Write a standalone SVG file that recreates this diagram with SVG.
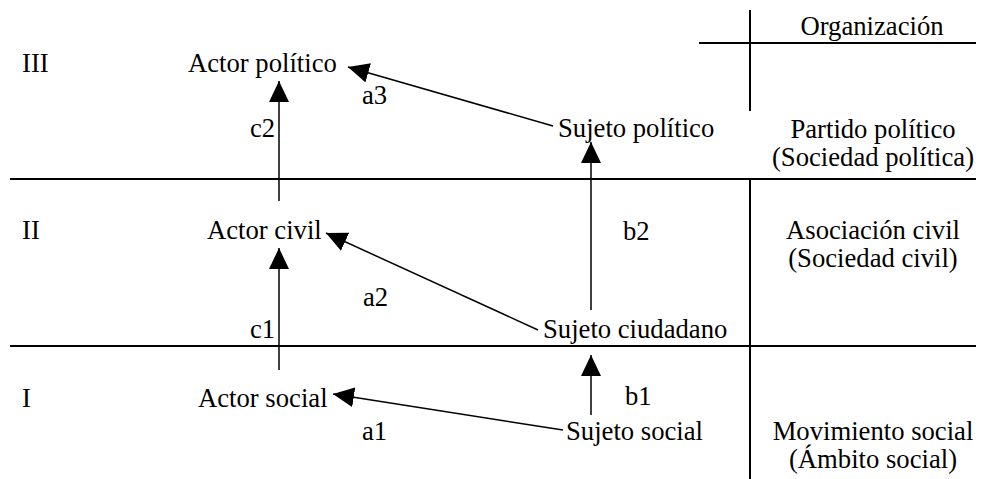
<svg xmlns="http://www.w3.org/2000/svg" width="987" height="479" viewBox="0 0 987 479">
<style>
text{font-family:"Liberation Serif","Times New Roman",serif;font-size:26.67px;fill:#000}
.r{text-anchor:middle}
.grid{stroke:#000;stroke-width:2;fill:none}
.arr{stroke:#000;stroke-width:1.5;fill:none;marker-end:url(#ah)}
</style>
<defs>
<marker id="ah" viewBox="0 0 21 20" refX="21" refY="10" markerWidth="21" markerHeight="20" markerUnits="userSpaceOnUse" orient="auto">
<path d="M0,0 L21,10 L0,20 Z" fill="#000"/>
</marker>
</defs>
<rect width="987" height="479" fill="#fff"/>
<g id="grid">
<line class="grid" x1="10" y1="179" x2="976" y2="179"/>
<line class="grid" x1="10" y1="346" x2="976" y2="346"/>
<line class="grid" x1="699" y1="43" x2="976" y2="43"/>
<line class="grid" x1="750" y1="10" x2="750" y2="111"/>
<line class="grid" x1="750" y1="179" x2="750" y2="479"/>
</g>
<g id="levels">
<text x="22" y="72">III</text>
<text x="22" y="239">II</text>
<text x="22" y="407">I</text>
</g>
<g id="actor-politico"><text x="188" y="72">Actor político</text></g>
<g id="actor-civil"><text x="207" y="239">Actor civil</text></g>
<g id="actor-social"><text x="198" y="407">Actor social</text></g>
<g id="sujeto-politico"><text x="558" y="137">Sujeto político</text></g>
<g id="sujeto-ciudadano"><text x="543" y="338">Sujeto ciudadano</text></g>
<g id="sujeto-social"><text x="566" y="440">Sujeto social</text></g>
<g id="organizacion">
<text class="r" x="872" y="35">Organización</text>
<text class="r" x="873" y="138">Partido político</text>
<text class="r" x="873" y="166">(Sociedad política)</text>
<text class="r" x="873" y="239">Asociación civil</text>
<text class="r" x="873" y="267">(Sociedad civil)</text>
<text class="r" x="873" y="440">Movimiento social</text>
<text class="r" x="873" y="468">(Ámbito social)</text>
</g>
<g id="connectors">
<line class="arr" x1="553" y1="126" x2="348" y2="67"/>
<line class="arr" x1="279" y1="201" x2="279" y2="81"/>
<line class="arr" x1="591" y1="310" x2="591" y2="142"/>
<line class="arr" x1="538" y1="330" x2="326" y2="233"/>
<line class="arr" x1="279" y1="370" x2="279" y2="248"/>
<line class="arr" x1="591" y1="415" x2="591" y2="355"/>
<line class="arr" x1="563" y1="430" x2="333" y2="394"/>
<text x="362" y="104">a3</text>
<text x="250" y="137">c2</text>
<text x="363" y="306">a2</text>
<text x="250" y="338">c1</text>
<text x="623" y="240">b2</text>
<text x="625" y="405">b1</text>
<text x="362" y="440">a1</text>
</g>
</svg>
